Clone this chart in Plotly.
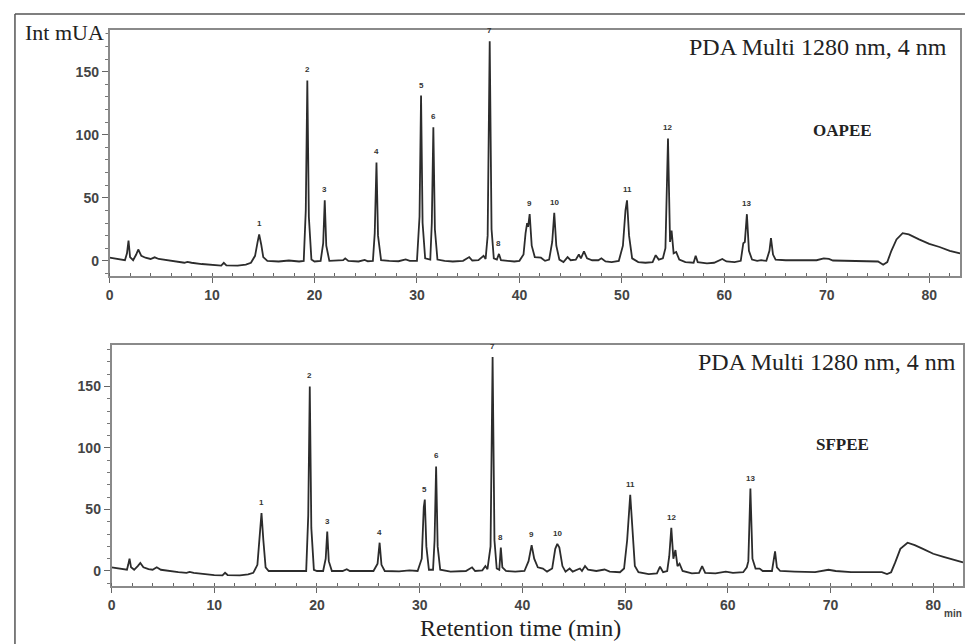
import plotly.graph_objects as go

# ---- data (retention time min, intensity mUA) ----
oapee_trace = [
    (0.0, 2.5), (0.5, 2.0), (1.0, 1.5), (1.5, 0.5), (1.7, 6), (1.85, 16), (2.0, 3), (2.3, 0.5),
    (2.6, 5), (2.8, 9), (3.1, 4), (3.5, 2.5), (4.0, 1.5), (4.4, 2.8), (4.8, 1.5), (5.5, 0.5),
    (6.5, -0.5), (7.3, -1.5), (7.6, -0.8), (8.0, -1.5), (9.0, -2.5), (10.0, -3.5), (10.9, -3.8),
    (11.15, -1.5), (11.4, -3.5), (12.5, -3.8), (13.3, -3), (13.8, -1.5), (14.2, 4), (14.45, 15),
    (14.6, 21), (14.8, 13), (15.0, 3), (15.4, 0), (16.5, -0.5), (17.5, 0.3), (18.5, -0.5),
    (18.95, 0), (19.15, 40), (19.3, 143), (19.45, 35), (19.7, 1), (20.0, -0.5), (20.6, 0),
    (20.85, 14), (21.0, 48), (21.15, 12), (21.45, 0), (22.2, 0), (22.8, 0.5), (23.0, 2), (23.3, 0),
    (24.3, -0.5), (24.9, 0.8), (25.2, -0.3), (25.7, 0), (25.88, 22), (26.05, 78), (26.2, 20),
    (26.5, 0.5), (27.3, 0), (28.2, -0.3), (28.9, 1.2), (29.3, 0), (30.0, 0), (30.25, 35),
    (30.4, 131), (30.55, 30), (30.8, 2), (31.3, 1), (31.45, 30), (31.6, 106), (31.75, 25),
    (32.0, 1), (32.7, 0), (33.5, -0.5), (34.5, 0), (35.1, 3), (35.4, 0.3), (36.0, 0.5), (36.5, 4),
    (36.7, 1.5), (36.9, 20), (37.1, 174), (37.28, 25), (37.5, 2), (37.8, 1), (38.0, 5.5),
    (38.2, 0.5), (38.8, 0), (39.5, -0.5), (40.0, 0), (40.4, 5), (40.6, 22), (40.75, 30),
    (40.85, 27), (41.0, 37), (41.2, 12), (41.5, 3), (42.1, 2.5), (42.5, 0), (42.9, 1), (43.2, 15),
    (43.4, 38), (43.6, 12), (43.9, 1), (44.3, -1), (44.7, 3), (45.0, 0.5), (45.5, 1), (45.8, 5),
    (46.0, 2), (46.3, 7.5), (46.6, 2), (47.1, 0.5), (47.7, 0.5), (48.0, 2), (48.4, -0.5),
    (49.0, -1), (49.7, 0), (50.1, 12), (50.35, 40), (50.5, 48), (50.7, 20), (51.0, 2), (51.6, -1),
    (52.3, -1.5), (53.0, -1), (53.3, 4.5), (53.6, 1), (54.0, 2), (54.25, 10), (54.5, 97),
    (54.7, 15), (54.85, 24), (55.05, 6), (55.3, 7), (55.6, 1), (56.2, -1), (57.0, -1.5),
    (57.2, 4), (57.4, -1), (58.3, -2), (59.0, -1.5), (59.4, 0), (59.8, 1.5), (60.2, -0.5),
    (61.0, -1), (61.6, 0), (61.85, 14), (62.0, 15), (62.2, 37), (62.4, 8), (62.7, 1), (63.2, 0),
    (63.6, 0.5), (64.1, 0), (64.4, 8), (64.55, 18), (64.75, 5), (65.0, 1), (66.0, 0.5),
    (67.5, 0.5), (69.0, 0.5), (69.7, 2), (70.2, 1.5), (70.6, 0.3), (72.0, 0), (74.0, 0),
    (75.0, -0.5), (75.5, -3), (75.9, -1), (76.3, 8), (76.8, 17), (77.4, 22), (78.0, 21),
    (79.0, 17), (80.0, 13.5), (81.0, 11), (82.0, 8), (83.0, 6),
]

sfpee_trace = [
    (0.0, 3), (0.5, 2.5), (1.0, 2), (1.5, 1), (1.62, 5), (1.75, 10), (1.9, 3), (2.2, 1),
    (2.55, 4), (2.8, 6.5), (3.1, 3), (3.6, 1.5), (4.0, 1), (4.4, 3), (4.8, 1), (5.5, 0),
    (6.5, -1), (7.3, -1.5), (7.6, -0.8), (8.0, -1.5), (9.0, -2.5), (10.0, -3.3), (10.8, -3.5),
    (11.05, -1.5), (11.3, -3.3), (12.5, -3.5), (13.3, -2.8), (13.8, -1.5), (14.2, 5),
    (14.45, 30), (14.6, 47), (14.78, 25), (15.0, 3), (15.3, 0), (16.5, 0), (18.0, 0),
    (18.95, 0), (19.15, 45), (19.3, 150), (19.45, 35), (19.7, 1), (20.0, 0), (20.6, 0),
    (20.85, 10), (21.0, 32), (21.15, 8), (21.45, 0), (22.5, 0), (22.9, 1.5), (23.2, 0),
    (24.5, -0.3), (25.5, 0), (25.9, 6), (26.1, 23), (26.28, 5), (26.6, 0), (28.0, -0.3),
    (29.0, 0.5), (29.8, 0), (30.2, 10), (30.4, 52), (30.5, 58), (30.65, 20), (30.9, 1),
    (31.3, 1), (31.45, 25), (31.6, 85), (31.75, 20), (32.0, 1), (33.0, -0.5), (34.5, 0),
    (35.1, 3), (35.4, 0), (36.1, 0.5), (36.4, 4), (36.6, 1.5), (36.9, 20), (37.1, 174),
    (37.28, 25), (37.5, 2), (37.75, 1), (37.9, 19), (38.05, 3), (38.4, 0), (39.3, -0.5),
    (40.2, 0), (40.6, 8), (40.9, 21), (41.15, 10), (41.5, 3), (42.0, 2), (42.4, -0.5),
    (42.9, 2), (43.2, 18), (43.4, 22), (43.6, 19), (43.9, 4), (44.2, -0.5), (44.6, 2),
    (44.9, -0.5), (45.6, 2), (45.8, 0), (46.1, 4), (46.4, 1), (47.2, 0), (48.0, 1.2),
    (48.5, -0.5), (49.5, -1), (49.9, 2), (50.2, 25), (50.5, 62), (50.7, 35), (50.95, 4),
    (51.3, -1), (52.3, -2.5), (53.1, -2), (53.4, 3.5), (53.7, -1), (54.1, 0), (54.3, 12),
    (54.5, 35), (54.7, 10), (54.9, 17), (55.1, 4), (55.3, 6), (55.6, 0), (56.5, -2),
    (57.2, -1.5), (57.5, 4), (57.8, -1.5), (58.8, -2), (59.8, -0.5), (60.5, -1.5), (61.5, -1),
    (61.85, 3), (62.0, 8), (62.2, 67), (62.4, 10), (62.7, 2), (63.1, 2), (63.4, 0), (64.3, 0),
    (64.5, 10), (64.6, 16), (64.78, 3), (65.1, 0), (66.5, -0.5), (68.5, -1), (69.8, 1),
    (70.5, 0), (72.0, -1), (74.0, -1), (75.0, -1), (75.5, -2.5), (75.9, -1), (76.3, 7),
    (76.8, 18), (77.5, 23), (78.2, 21), (79.0, 18), (80.0, 14), (81.0, 11.5), (82.0, 9),
    (82.9, 7),
]

peak_labels = ["1", "2", "3", "4", "5", "6", "7", "8", "9", "10", "11", "12", "13"]
oapee_peak_times = [14.6, 19.3, 21.0, 26.05, 30.4, 31.6, 37.1, 38.0, 41.0, 43.4, 50.5, 54.5, 62.2]
oapee_peak_heights = [21, 143, 48, 78, 131, 106, 174, 5.5, 37, 38, 48, 97, 37]
sfpee_peak_times = [14.6, 19.3, 21.0, 26.1, 30.5, 31.6, 37.1, 37.9, 40.9, 43.4, 50.5, 54.5, 62.2]
sfpee_peak_heights = [47, 150, 32, 23, 58, 85, 174, 19, 21, 22, 62, 35, 67]

y_ticks = [0, 50, 100, 150]
x_ticks = [0, 10, 20, 30, 40, 50, 60, 70, 80]

W, H = 965, 644


def px(x):
    return x / W


def py(y):
    return 1 - y / H


fig = go.Figure()
for trace, xa, ya in [(oapee_trace, "x", "y"), (sfpee_trace, "x2", "y2")]:
    fig.add_trace(go.Scatter(
        x=[p[0] for p in trace], y=[p[1] for p in trace], mode="lines",
        line=dict(color="#2c2c2c", width=1.8), xaxis=xa, yaxis=ya,
        hoverinfo="skip", showlegend=False))

tick_font = dict(family="Liberation Sans, Arial, sans-serif", size=14, color="#444444",
                 weight="bold")
axis_common = dict(showgrid=False, zeroline=False, showline=True, mirror=True,
                   linecolor="#8a8a8a", linewidth=1.6, tickfont=tick_font,
                   ticks="outside", tickcolor="#666666", tickwidth=1.2)

fig.update_layout(
    width=W, height=H, margin=dict(l=0, r=0, t=0, b=0),
    paper_bgcolor="white", plot_bgcolor="white",
    xaxis=dict(domain=[px(106), px(960)], range=[0, 83.0], anchor="y",
               tickvals=x_ticks, ticklen=5,
               minor=dict(dtick=2, ticks="inside", ticklen=3, tickcolor="#666666"),
               **axis_common),
    yaxis=dict(domain=[py(276), py(30)], range=[-12, 183], anchor="x",
               tickvals=y_ticks, ticklen=6,
               minor=dict(dtick=10, ticks="outside", ticklen=3, tickcolor="#777777"),
               **axis_common),
    xaxis2=dict(domain=[px(108), px(963)], range=[0, 82.9], anchor="y2",
                tickvals=x_ticks, ticklen=5,
                minor=dict(dtick=2, ticks="inside", ticklen=3, tickcolor="#666666"),
                **axis_common),
    yaxis2=dict(domain=[py(586), py(345)], range=[-12.2, 183.7], anchor="x2",
                tickvals=y_ticks, ticklen=6,
                minor=dict(dtick=10, ticks="outside", ticklen=3, tickcolor="#777777"),
                **axis_common),
)

serif = "Liberation Serif, Times New Roman, serif"
ann = []
ann.append(dict(text="Int mUA", x=px(19), y=py(33), xref="paper", yref="paper",
                xanchor="left", yanchor="middle", showarrow=False,
                font=dict(family=serif, size=22, color="#222222"), bgcolor="white"))
ann.append(dict(text="PDA Multi 1280 nm, 4 nm", x=px(949), y=py(47), xref="paper", yref="paper",
                xanchor="right", yanchor="middle", showarrow=False,
                font=dict(family=serif, size=24, color="#222222")))
ann.append(dict(text="PDA Multi 1280 nm, 4 nm", x=px(958), y=py(362), xref="paper", yref="paper",
                xanchor="right", yanchor="middle", showarrow=False,
                font=dict(family=serif, size=24, color="#222222")))
ann.append(dict(text="<b>OAPEE</b>", x=px(842), y=py(131), xref="paper", yref="paper",
                xanchor="center", yanchor="middle", showarrow=False,
                font=dict(family=serif, size=17, color="#222222")))
ann.append(dict(text="<b>SFPEE</b>", x=px(842), y=py(444), xref="paper", yref="paper",
                xanchor="center", yanchor="middle", showarrow=False,
                font=dict(family=serif, size=17, color="#222222")))
ann.append(dict(text="Retention time (min)", x=px(519), y=py(628), xref="paper", yref="paper",
                xanchor="center", yanchor="middle", showarrow=False,
                font=dict(family=serif, size=24, color="#222222")))
ann.append(dict(text="<b>min</b>", x=px(964), y=py(613), xref="paper", yref="paper",
                xanchor="right", yanchor="middle", showarrow=False,
                font=dict(family="Liberation Sans, Arial, sans-serif", size=10, color="#444444")))

label_font = dict(family="Liberation Sans, Arial, sans-serif", size=8, color="#333333")
for times, heights, xr, yr in [(oapee_peak_times, oapee_peak_heights, "x", "y"),
                               (sfpee_peak_times, sfpee_peak_heights, "x2", "y2")]:
    for lab, t, h in zip(peak_labels, times, heights):
        ann.append(dict(text="<b>%s</b>" % lab, x=t, y=h, xref=xr, yref=yr,
                        xanchor="center", yanchor="bottom", yshift=4, showarrow=False,
                        font=label_font))

fig.update_layout(annotations=ann)

# outer frame of the figure panel
fig.add_shape(type="line", xref="paper", yref="paper", x0=px(11), x1=px(11), y0=py(14), y1=0,
              line=dict(color="#555555", width=1.5))
fig.add_shape(type="line", xref="paper", yref="paper", x0=px(11), x1=1, y0=py(14), y1=py(14),
              line=dict(color="#555555", width=1.5))

fig.write_html("out.html", config={"displayModeBar": False},
               post_script="document.body.style.margin='0';document.body.style.overflow='hidden';")
